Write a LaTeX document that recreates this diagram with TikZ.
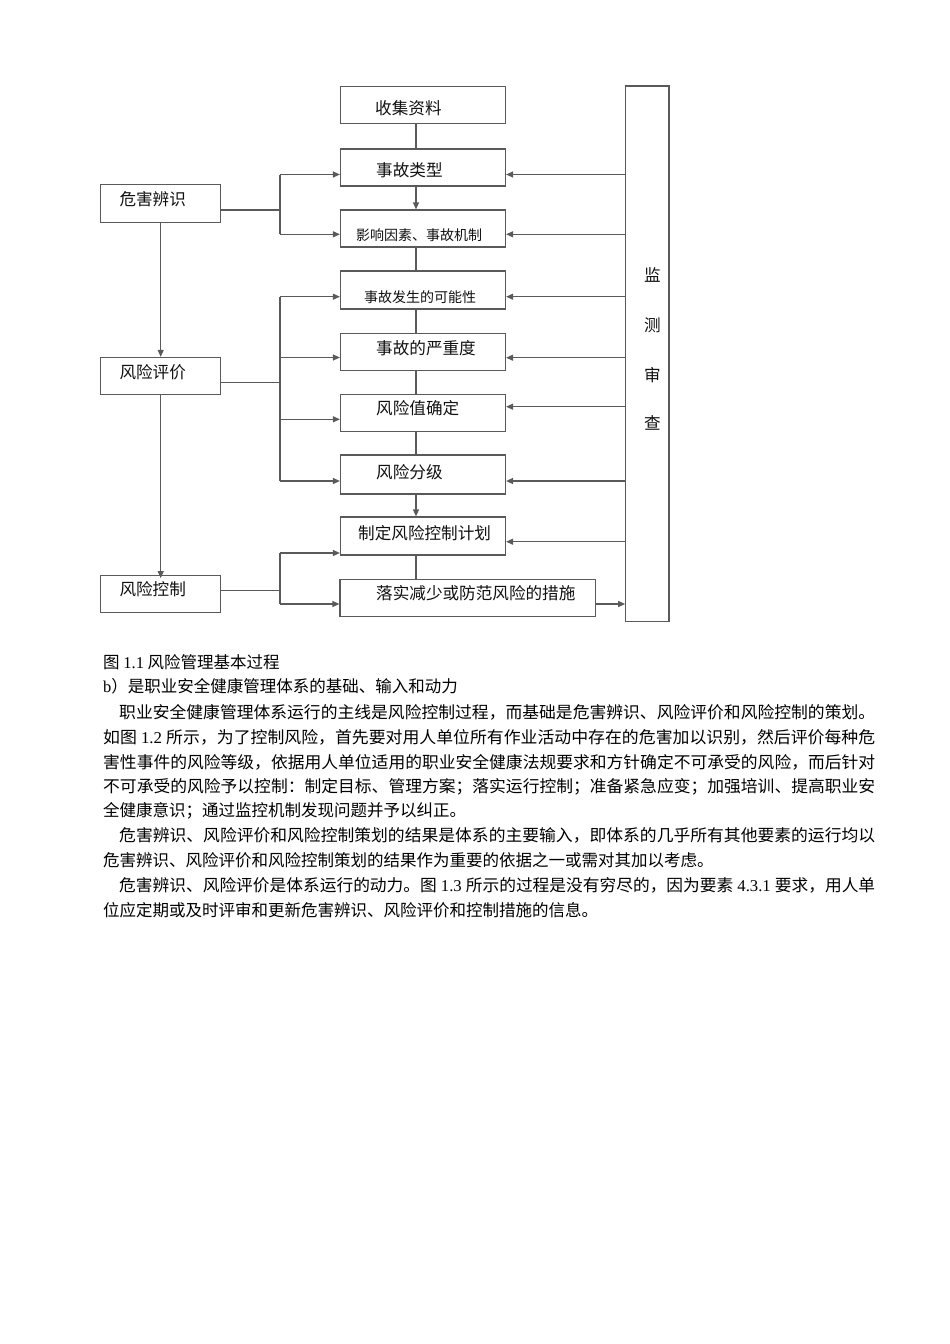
\documentclass[tikz,border=0pt]{standalone}
\usepackage{fontspec}
\usepackage{graphicx}
\setmainfont{Noto Sans CJK SC}
\newfontfamily\lat{Liberation Serif}
\usetikzlibrary{arrows.meta,calc}
\definecolor{ln}{HTML}{5A5A5A}
\definecolor{tx}{HTML}{111111}
\newcommand{\jline}[2]{\resizebox{#1}{\height}{#2}}
\begin{document}
\begin{tikzpicture}[x=1pt,y=-1pt,
  box/.style={draw=ln,line width=1.2pt,minimum width=165pt,minimum height=37pt,inner sep=0pt},
  lbl/.style={anchor=west,inner sep=0pt,text=tx,font=\fontsize{16.6}{18}\selectfont},
  slbl/.style={anchor=west,inner sep=0pt,text=tx,font=\fontsize{14}{16}\selectfont},
  vlbl/.style={inner sep=0pt,text=tx,font=\fontsize{16.6}{18}\selectfont},
  con/.style={draw=ln,line width=1.2pt},
  arr/.style={con,-{Triangle[length=7pt,width=6pt]}},
  body/.style={anchor=west,inner sep=0pt,text=black,font=\fontsize{16.5}{20}\selectfont},
]
\useasboundingbox (0,0) rectangle (950,1344);
\fill[white] (0,0) rectangle (950,1344);

% main column boxes
\node[box] (b1) at (423,105) {};
\node[box] (b2) at (423,167.5) {};
\node[box] (b3) at (423,228.5) {};
\node[box,minimum height=38pt] (b4) at (423,290) {};
\node[box] (b5) at (423,351.7) {};
\node[box] (b6) at (423,413) {};
\node[box,minimum height=39pt] (b7) at (423,474.5) {};
\node[box,minimum height=38pt] (b8) at (423,536) {};
\node[box,minimum width=255.6pt] (b9) at (467.8,597.7) {};
% left boxes
\node[box,minimum width=120pt,minimum height=38pt] (L1) at (160.7,203.8) {};
\node[box,minimum width=120pt] (L2) at (160.7,376) {};
\node[box,minimum width=120pt] (L3) at (160.7,594.2) {};
% monitoring box
\node[box,minimum width=43.3pt,minimum height=535.7pt] (M) at (647.4,353.9) {};

% labels
\node[lbl] at (375,108) {收集资料};
\node[lbl] at (376,170.5) {事故类型};
\node[slbl] at (356,235) {影响因素、事故机制};
\node[slbl] at (364,297) {事故发生的可能性};
\node[lbl] at (376,348) {事故的严重度};
\node[lbl] at (376,408.3) {风险值确定};
\node[lbl] at (376,471.7) {风险分级};
\node[lbl] at (358,533) {制定风险控制计划};
\node[lbl] at (376,593.3) {落实减少或防范风险的措施};
\node[lbl] at (119.3,199.5) {危害辨识};
\node[lbl] at (119.3,372) {风险评价};
\node[lbl] at (119.3,589) {风险控制};
\node[vlbl] at (652.5,275) {监};
\node[vlbl] at (652.5,325) {测};
\node[vlbl] at (652.5,375) {审};
\node[vlbl] at (652.5,423) {查};

% helper coordinates
\coordinate (cx) at (416,0);
\coordinate (bx) at (280,0);

% main column connectors
\draw[con] (b1.south -| cx) -- (b2.north -| cx);
\draw[arr] (b2.south -| cx) -- (b3.north -| cx);
\draw[con] (b3.south -| cx) -- (b4.north -| cx);
\draw[con] (b4.south -| cx) -- (b5.north -| cx);
\draw[con] (b5.south -| cx) -- (b6.north -| cx);
\draw[con] (b6.south -| cx) -- (b7.north -| cx);
\draw[arr] (b7.south -| cx) -- (b8.north -| cx);
\draw[con] (b8.south -| cx) -- (b9.north -| cx);

% left vertical arrows
\draw[arr] (L1.south) -- (L2.north);
\draw[arr] (L2.south) -- ($(L3.north)+(0,3)$);

% group 1
\coordinate (g1) at (0,210);
\coordinate (a2) at (0,174.5);
\coordinate (a3) at (0,234.3);
\draw[con] (L1.east |- g1) -- (g1 -| bx);
\draw[con] (a2 -| bx) -- (a3 -| bx);
\draw[arr] (a2 -| bx) -- (a2 -| b2.west);
\draw[arr] (a3 -| bx) -- (a3 -| b3.west);

% group 2
\coordinate (g2) at (0,382.3);
\coordinate (a4) at (0,296.7);
\coordinate (a5) at (0,357.5);
\coordinate (a6) at (0,419.3);
\coordinate (a7) at (0,481);
\draw[con] (L2.east |- g2) -- (g2 -| bx);
\draw[con] (a4 -| bx) -- (a7 -| bx);
\draw[arr] (a4 -| bx) -- (a4 -| b4.west);
\draw[arr] (a5 -| bx) -- (a5 -| b5.west);
\draw[arr] (a6 -| bx) -- (a6 -| b6.west);
\draw[arr] (a7 -| bx) -- (a7 -| b7.west);

% group 3
\coordinate (g3) at (0,590.7);
\coordinate (a8) at (0,553);
\coordinate (a9) at (0,604);
\draw[con] (L3.east |- g3) -- (g3 -| bx);
\draw[con] (a8 -| bx) -- (a9 -| bx);
\draw[arr] (a8 -| bx) -- (a8 -| b8.west);
\draw[arr] (a9 -| bx) -- (a9 -| b9.west);

% monitoring feedback arrows
\coordinate (r2) at (0,174.5);
\coordinate (r3) at (0,234.3);
\coordinate (r4) at (0,296.7);
\coordinate (r5) at (0,357.7);
\coordinate (r6) at (0,406.7);
\coordinate (r7) at (0,481);
\coordinate (r8) at (0,541.7);
\coordinate (r9) at (0,604);
\draw[arr] (r2 -| M.west) -- (r2 -| b2.east);
\draw[arr] (r3 -| M.west) -- (r3 -| b3.east);
\draw[arr] (r4 -| M.west) -- (r4 -| b4.east);
\draw[arr] (r5 -| M.west) -- (r5 -| b5.east);
\draw[arr] (r6 -| M.west) -- (r6 -| b6.east);
\draw[arr] (r7 -| M.west) -- (r7 -| b7.east);
\draw[arr] (r8 -| M.west) -- (r8 -| b8.east);
\draw[arr] (r9 -| b9.east) -- (r9 -| M.west);

% body text
\node[body] (t1) at (103,662) {图 {\lat 1.1} 风险管理基本过程};
\node[body] (t2) at (103,686) {{\lat b}）是职业安全健康管理体系的基础、输入和动力};
\node[body] (t3) at (119,712) {\jline{756pt}{职业安全健康管理体系运行的主线是风险控制过程，而基础是危害辨识、风险评价和风险控制的策划。}};
\node[body] (t4) at (103,737) {\jline{772pt}{如图\kern4pt{\lat 1.2}\kern4pt 所示，为了控制风险，首先要对用人单位所有作业活动中存在的危害加以识别，然后评价每种危}};
\node[body] (t5) at (103,762) {\jline{772pt}{害性事件的风险等级，依据用人单位适用的职业安全健康法规要求和方针确定不可承受的风险，而后针对}};
\node[body] (t6) at (103,787) {\jline{772pt}{不可承受的风险予以控制：制定目标、管理方案；落实运行控制；准备紧急应变；加强培训、提高职业安}};
\node[body] (t7) at (103,811) {全健康意识；通过监控机制发现问题并予以纠正。};
\node[body] (t8) at (119,835) {\jline{756pt}{危害辨识、风险评价和风险控制策划的结果是体系的主要输入，即体系的几乎所有其他要素的运行均以}};
\node[body] (t9) at (103,860) {危害辨识、风险评价和风险控制策划的结果作为重要的依据之一或需对其加以考虑。};
\node[body] (t10) at (119,885) {\jline{756pt}{危害辨识、风险评价是体系运行的动力。图\kern4pt{\lat 1.3}\kern4pt 所示的过程是没有穷尽的，因为要素\kern4pt{\lat 4.3.1}\kern4pt 要求，用人单}};
\node[body] (t11) at (103,910) {位应定期或及时评审和更新危害辨识、风险评价和控制措施的信息。};
\end{tikzpicture}
\end{document}
